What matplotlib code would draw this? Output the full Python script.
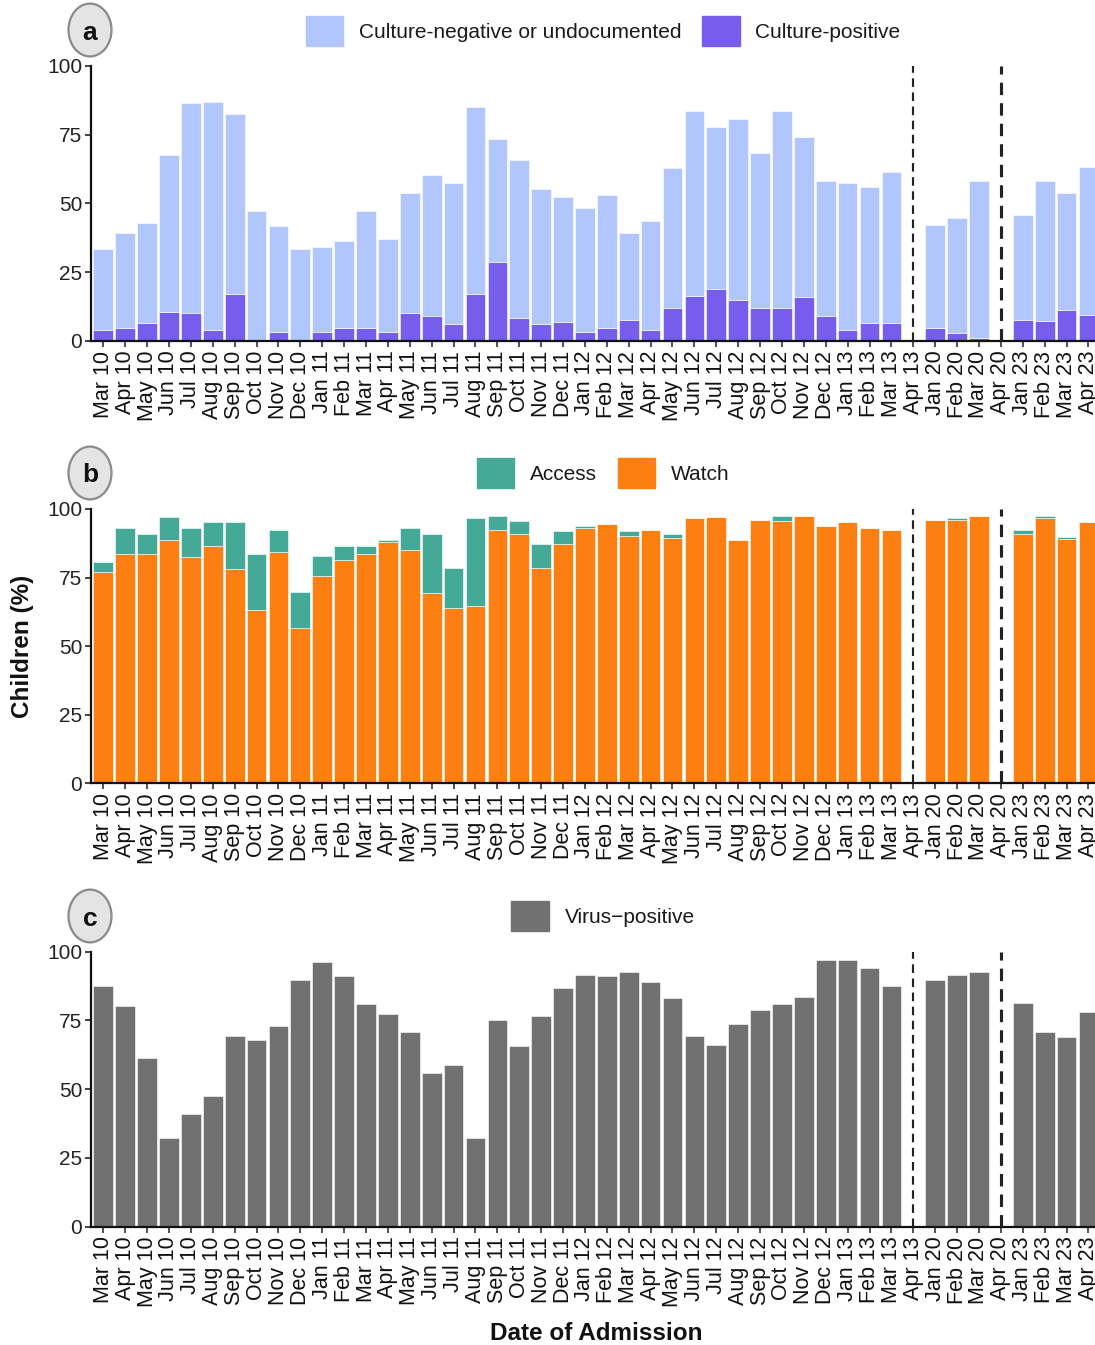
import numpy as np
import matplotlib
matplotlib.use("Agg")
import matplotlib.pyplot as plt
from matplotlib.patches import Circle, Patch

plt.rcParams["font.family"] = ["Liberation Sans", "DejaVu Sans"]

# ---- data -------------------------------------------------------------
months = [
    "Mar 10", "Apr 10", "May 10", "Jun 10", "Jul 10", "Aug 10", "Sep 10", "Oct 10",
    "Nov 10", "Dec 10", "Jan 11", "Feb 11", "Mar 11", "Apr 11", "May 11", "Jun 11",
    "Jul 11", "Aug 11", "Sep 11", "Oct 11", "Nov 11", "Dec 11", "Jan 12", "Feb 12",
    "Mar 12", "Apr 12", "May 12", "Jun 12", "Jul 12", "Aug 12", "Sep 12", "Oct 12",
    "Nov 12", "Dec 12", "Jan 13", "Feb 13", "Mar 13", "Apr 13", "Jan 20", "Feb 20",
    "Mar 20", "Apr 20", "Jan 23", "Feb 23", "Mar 23", "Apr 23",
]
nan = np.nan

# (a) blood culture results, % of children
culture_positive = [
    4.1, 4.9, 6.6, 10.7, 10.0, 4.1, 17.2, 0.0, 3.4, 0.0, 3.4, 4.6, 4.9, 3.4, 10.0, 9.0,
    6.3, 17.2, 28.8, 8.5, 6.3, 7.0, 3.4, 4.9, 7.8, 4.1, 12.1, 16.5, 18.9, 15.0, 12.1, 12.1,
    16.0, 9.2, 4.1, 6.6, 6.6, nan, 4.9, 2.9, 1.2, nan, 7.8, 7.3, 11.4, 9.5,
]
culture_negative = [
    29.2, 34.2, 36.2, 56.8, 76.3, 82.8, 65.4, 47.1, 38.5, 33.3, 30.6, 31.6, 42.2, 33.5, 43.6, 51.3,
    51.0, 67.9, 44.4, 57.4, 48.8, 45.2, 44.8, 48.0, 31.3, 39.5, 50.9, 67.1, 58.9, 65.6, 56.1, 71.5,
    58.2, 48.9, 53.3, 49.2, 54.9, nan, 37.1, 41.9, 56.9, nan, 37.8, 50.8, 42.5, 53.7,
]

# (b) antibiotic class received, % of children
watch = [
    77.2, 83.7, 83.7, 88.8, 82.5, 86.6, 78.0, 63.1, 84.4, 56.6, 75.7, 81.3, 83.7, 88.1, 85.2, 69.5,
    63.8, 64.8, 92.5, 91.0, 78.6, 87.4, 93.2, 94.7, 90.3, 92.5, 89.6, 96.8, 97.1, 88.8, 96.1, 95.6,
    97.6, 93.9, 95.4, 93.2, 92.5, nan, 96.1, 96.1, 97.6, nan, 91.0, 96.8, 89.1, 95.4,
]
access = [
    3.6, 9.5, 7.3, 8.3, 10.7, 8.8, 17.4, 20.6, 8.1, 13.3, 7.3, 5.3, 2.9, 0.7, 8.0, 21.5,
    14.8, 32.0, 5.1, 4.6, 8.5, 4.6, 0.7, 0.0, 1.7, 0.0, 1.4, 0.0, 0.0, 0.0, 0.0, 2.0,
    0.0, 0.0, 0.0, 0.0, 0.0, nan, 0.0, 0.7, 0.0, nan, 1.5, 0.8, 0.7, 0.0,
]

# (c) respiratory virus detection, % of children
virus_positive = [
    87.4, 80.2, 61.3, 32.4, 41.0, 47.5, 69.5, 68.0, 73.1, 89.8, 96.4, 91.3, 81.1, 77.5, 70.9, 55.8,
    58.8, 32.4, 75.3, 65.8, 76.5, 86.9, 91.5, 91.3, 92.7, 89.1, 83.3, 69.5, 66.1, 73.8, 78.9, 81.1,
    83.5, 97.1, 97.1, 94.2, 87.6, nan, 89.8, 91.5, 92.7, nan, 81.3, 70.8, 69.0, 77.9,
]

break_months = ["Apr 13", "Apr 20"]
break_widths = [1.1, 1.6]

yticks = [0, 25, 50, 75, 100]

# ---- style ------------------------------------------------------------
C_NEG = "#b0c6fd"
C_POS = "#775deb"
C_ACCESS = "#44a996"
C_WATCH = "#fd7f11"
C_VIRUS = "#717171"

W, H = 1095, 1345
fig = plt.figure(figsize=(W / 100, H / 100), dpi=100)

x = np.arange(len(months))


def px_axes(left, top, right, bottom):
    return fig.add_axes([left / W, 1 - bottom / H, (right - left) / W, (bottom - top) / H])


def style_axes(ax):
    ax.set_xlim(-0.576, 45.30)
    ax.set_ylim(0, 100)
    ax.set_yticks(yticks)
    ax.set_xticks(x)
    ax.set_xticklabels(months, rotation=90, fontsize=15.5, color="#111111")
    ax.tick_params(axis="y", labelsize=15, colors="#222222", length=4, width=1.2, pad=2)
    ax.tick_params(axis="x", length=4, width=1.2, pad=3, colors="#333333")
    for lab in ax.get_xticklabels():
        lab.set_color("#111111")
    for lab in ax.get_yticklabels():
        lab.set_color("#222222")
    for side in ("top", "right"):
        ax.spines[side].set_visible(False)
    for side in ("left", "bottom"):
        ax.spines[side].set_linewidth(1.6)
        ax.spines[side].set_color("#111111")
    ax.set_facecolor("none")
    for m, lw in zip(break_months, break_widths):
        ax.axvline(months.index(m), color="#222222", lw=lw * 1.4,
                   linestyle=(0, (4.0, 2.6)), zorder=3)


def panel_tag(cx, cy, letter):
    fig.patches.append(Circle((cx / W, 1 - cy / H), radius=21.5 / W, transform=fig.transFigure,
                              facecolor="#e4e4e4", edgecolor="#8a8a8a", lw=1.6))
    fig.text(cx / W, 1 - cy / H, letter, ha="center", va="center_baseline",
             fontsize=19, fontweight="bold", color="#111111")


def top_legend(cy, handles, labels):
    fig.legend(handles, labels, loc="center", bbox_to_anchor=(603 / W, 1 - cy / H),
               ncol=len(handles), frameon=False, fontsize=15, handlelength=1.8,
               handleheight=1.85, handletextpad=0.75, columnspacing=1.0,
               labelcolor="#1a1a1a", borderpad=0)


# (a)
ax_a = px_axes(90.7, 65.7, W, 341)
ax_a.bar(x, culture_positive, width=0.9, color=C_POS, edgecolor="white", lw=0.4, zorder=2)
ax_a.bar(x, culture_negative, bottom=culture_positive, width=0.9, color=C_NEG,
         edgecolor="white", lw=0.4, zorder=2)
style_axes(ax_a)
panel_tag(90, 30, "a")
top_legend(31, [Patch(color=C_NEG), Patch(color=C_POS)],
           ["Culture-negative or undocumented", "Culture-positive"])

# (b)
ax_b = px_axes(90.7, 509, W, 783.5)
ax_b.bar(x, watch, width=0.9, color=C_WATCH, edgecolor="white", lw=0.4, zorder=2)
ax_b.bar(x, access, bottom=watch, width=0.9, color=C_ACCESS, edgecolor="white", lw=0.4, zorder=2)
style_axes(ax_b)
panel_tag(90, 473, "b")
top_legend(473, [Patch(color=C_ACCESS), Patch(color=C_WATCH)], ["Access", "Watch"])

# (c)
ax_c = px_axes(90.7, 951.7, W, 1226.7)
ax_c.bar(x, virus_positive, width=0.9, color=C_VIRUS, edgecolor="white", lw=0.4, zorder=2)
style_axes(ax_c)
panel_tag(90, 916, "c")
top_legend(916, [Patch(color=C_VIRUS)], ["Virus\u2212positive"])

fig.text(22 / W, 1 - 646 / H, "Children (%)", rotation=90, ha="center", va="center",
         fontsize=17.5, fontweight="bold", color="#111111")
fig.text(596 / W, 1 - 1333 / H, "Date of Admission", ha="center", va="center",
         fontsize=17.5, fontweight="bold", color="#111111")

fig.savefig("out.png", dpi=100)
